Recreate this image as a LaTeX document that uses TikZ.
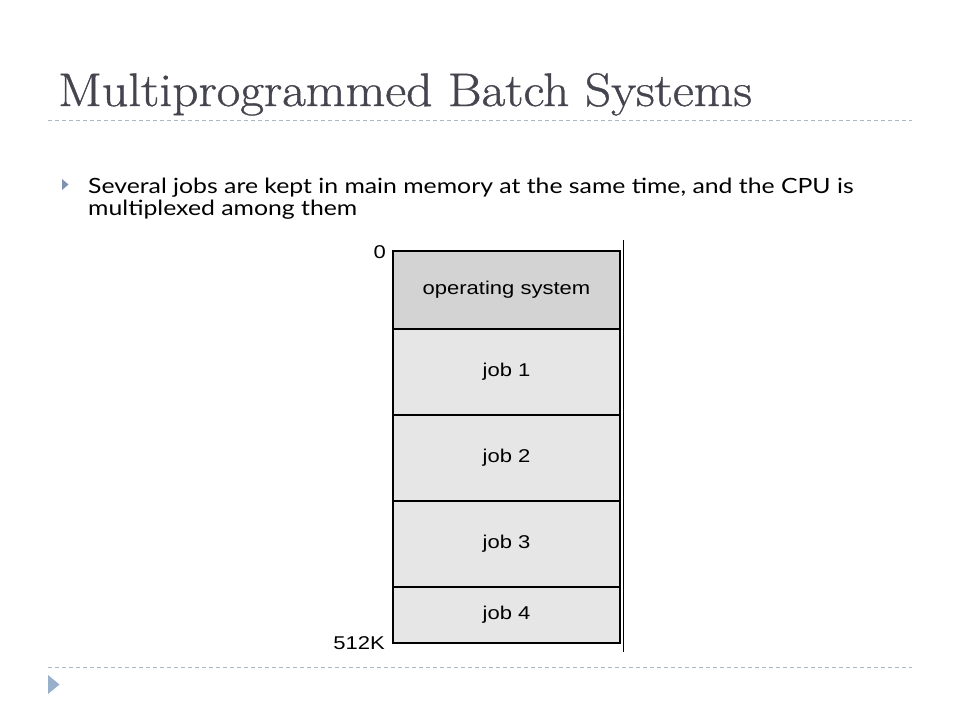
\documentclass[tikz,border=0pt]{standalone}
\usepackage{fontspec}
\newfontfamily\bodyfont{Lato}
\newfontfamily\diagfont{Liberation Sans}
\newfontfamily\titlefont[FakeBold=0.8]{Latin Modern Roman}
\definecolor{titlecol}{HTML}{45454F}
\definecolor{dashcol}{HTML}{A9B7C6}
\definecolor{bulletcol}{HTML}{7F93B0}
\definecolor{navcol}{HTML}{98B0CA}
\definecolor{osfill}{HTML}{D3D3D3}
\definecolor{jobfill}{HTML}{E6E6E6}
\newcommand{\dstr}[1]{\scalebox{1.19}[1]{#1}}
\newcommand{\bstr}[1]{\scalebox{1.18}[1]{#1}}
\begin{document}
\begin{tikzpicture}[x=1pt,y=-1pt,
  memblock/.style={draw=black, line width=1.1pt, minimum width=227pt, anchor=north west, inner sep=0pt, outer sep=0pt,
     font=\diagfont\fontsize{18.5}{20}\selectfont},
  sepline/.style={dashcol, dash pattern=on 4pt off 3pt, line width=0.8pt},
  memlabel/.style={font=\diagfont\fontsize{18.5}{20}\selectfont, inner sep=0pt},
  bodytext/.style={anchor=base west, inner sep=0pt, font=\bodyfont\fontsize{21}{22}\selectfont}
]
\useasboundingbox[fill=white] (0,0) rectangle (960,720);
% title
\node[anchor=base west, inner sep=0pt, text=titlecol, font=\titlefont\fontsize{47}{50}\selectfont] (title) at (58,106) {\scalebox{1.095}[1]{Multiprogrammed Batch Systems}};
\coordinate (l1a) at (48,120);
\coordinate (l1b) at (912,120);
\draw[sepline] (l1a) -- (l1b);
% bullet
\fill[bulletcol] (62,179) -- (68.5,184.5) -- (62,190) -- cycle;
\node[bodytext] (body1) at (88,193) {\bstr{Several jobs are kept in main memory at the same time, and the CPU is}};
\node[bodytext] (body2) at (88,215) {\bstr{multiplexed among them}};
% memory diagram
\node[memblock, fill=osfill, minimum height=78pt] (os) at (393,251) {\dstr{operating system}};
\node[memblock, fill=jobfill, minimum height=86pt] (j1) at (os.south west) {\dstr{job 1}};
\node[memblock, fill=jobfill, minimum height=86pt] (j2) at (j1.south west) {\dstr{job 2}};
\node[memblock, fill=jobfill, minimum height=86pt] (j3) at (j2.south west) {\dstr{job 3}};
\node[memblock, fill=jobfill, minimum height=56pt] (j4) at (j3.south west) {\dstr{job 4}};
\coordinate (vtop) at (623,240);
\coordinate (vbot) at (623,652);
\draw[line width=1pt] (vtop) -- (vbot);
\node[memlabel, anchor=east] (zero) at (386,252) {\dstr{0}};
\node[memlabel, anchor=east] (end) at (385,643) {\dstr{512K}};
% bottom
\coordinate (l2a) at (48,667);
\coordinate (l2b) at (912,667);
\draw[sepline] (l2a) -- (l2b);
\fill[navcol] (48,675) -- (59.5,684.5) -- (48,694) -- cycle;
\end{tikzpicture}
\end{document}
